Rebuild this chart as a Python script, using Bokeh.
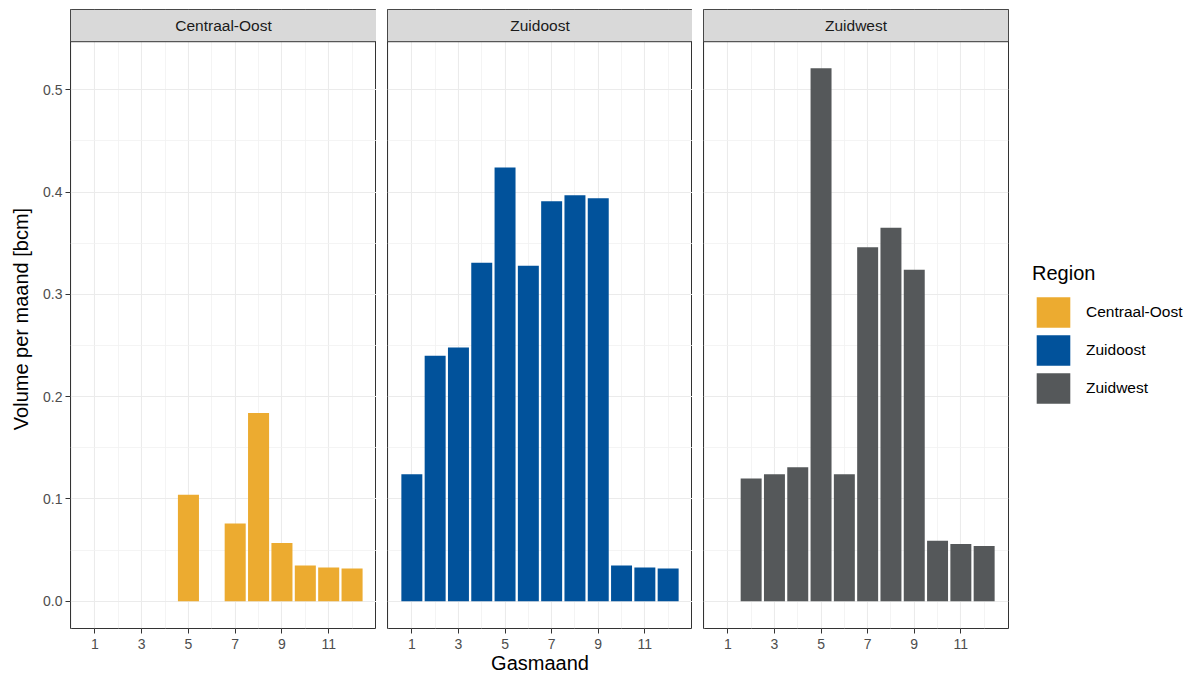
from bokeh.plotting import figure
from bokeh.models import FixedTicker, Range1d, Legend, LegendItem, ColumnDataSource, PrintfTickFormatter
from bokeh.layouts import row
from bokeh.embed import file_html
from bokeh.resources import INLINE
from bokeh.core.properties import value

# ---------------- data ----------------
months = [1, 2, 3, 4, 5, 6, 7, 8, 9, 10, 11, 12]
regions = ["Centraal-Oost", "Zuidoost", "Zuidwest"]
centraal_oost = [None, None, None, None, 0.104, None, 0.076, 0.184, 0.057, 0.035, 0.033, 0.032]
zuidoost = [0.124, 0.240, 0.248, 0.331, 0.424, 0.328, 0.391, 0.397, 0.394, 0.035, 0.033, 0.032]
zuidwest = [None, 0.120, 0.124, 0.131, 0.521, 0.124, 0.346, 0.365, 0.324, 0.059, 0.056, 0.054]
region_colors = ["#ECAB30", "#01529B", "#55585A"]
x_ticks = [1, 3, 5, 7, 9, 11]
x_minor = [0, 2, 4, 6, 8, 10, 12]
y_ticks = [0.0, 0.1, 0.2, 0.3, 0.4, 0.5]
y_minor = [0.05, 0.15, 0.25, 0.35, 0.45]
x_label = "Gasmaand"
y_label = "Volume per maand [bcm]"
legend_title = "Region"

series = [centraal_oost, zuidoost, zuidwest]

# ---------------- layout constants ----------------
FONT = "Liberation Sans"
X_LO, X_HI = -0.045, 13.045
Y_LO, Y_PANEL_TOP, Y_HEADER_TOP = -0.0267, 0.547, 0.5785
FRAME_H = 619
FRAME_WS = [306, 305, 305]
BORDER_LEFT = [70, 11, 11]

figs = []
for i, (reg, vals, col) in enumerate(zip(regions, series, region_colors)):
    p = figure(
        output_backend="svg", toolbar_location=None,
        frame_width=FRAME_WS[i], frame_height=FRAME_H,
        x_range=Range1d(X_LO, X_HI), y_range=Range1d(Y_LO, Y_HEADER_TOP),
        y_axis_location="left" if i == 0 else None,
        min_border_left=BORDER_LEFT[i], min_border_right=0 if i < 2 else 184,
        min_border_top=9, min_border_bottom=40,
        background_fill_color="white", border_fill_color="white",
        outline_line_color="#333333", outline_line_width=1,
    )
    xs = [m for m, v in zip(months, vals) if v is not None]
    ys = [v for v in vals if v is not None]
    src = ColumnDataSource(dict(x=xs, top=ys))
    r = p.vbar(x="x", top="top", bottom=0, width=0.9, source=src,
               fill_color=col, line_color=None)

    # grid
    p.xgrid.ticker = FixedTicker(ticks=x_ticks, minor_ticks=x_minor)
    p.ygrid.ticker = FixedTicker(ticks=y_ticks, minor_ticks=y_minor)
    for g in (p.xgrid, p.ygrid):
        g.grid_line_color = "#EBEBEB"
        g.grid_line_width = 1.1
        g.minor_grid_line_color = "#F1F1F1"
        g.minor_grid_line_width = 0.8

    # x axis
    xa = p.xaxis[0]
    xa.ticker = FixedTicker(ticks=x_ticks)
    xa.axis_line_color = None
    xa.major_tick_line_color = "#333333"
    xa.major_tick_out = 5
    xa.major_tick_in = 0
    xa.minor_tick_line_color = None
    xa.major_label_text_font = FONT
    xa.major_label_text_font_size = "14px"
    xa.major_label_text_color = "#4D4D4D"
    xa.major_label_standoff = 5
    if i == 1:
        xa.axis_label = x_label
        xa.axis_label_text_font = FONT
        xa.axis_label_text_font_size = "20px"
        xa.axis_label_text_font_style = "normal"
        xa.axis_label_text_color = "#000000"
        xa.axis_label_standoff = 0

    if i == 0:
        ya = p.yaxis[0]
        ya.ticker = FixedTicker(ticks=y_ticks)
        ya.formatter = PrintfTickFormatter(format="%.1f")
        ya.axis_line_color = None
        ya.major_tick_line_color = "#333333"
        ya.major_tick_out = 5
        ya.major_tick_in = 0
        ya.minor_tick_line_color = None
        ya.major_label_text_font = FONT
        ya.major_label_text_font_size = "14px"
        ya.major_label_text_color = "#4D4D4D"
        ya.major_label_standoff = 3
        ya.axis_label = y_label
        ya.axis_label_text_font = FONT
        ya.axis_label_text_font_size = "20px"
        ya.axis_label_text_font_style = "normal"
        ya.axis_label_text_color = "#000000"
        ya.axis_label_standoff = 8

    # facet strip header
    p.quad(left=X_LO, right=X_HI, bottom=Y_PANEL_TOP, top=Y_HEADER_TOP,
           fill_color="#D9D9D9", line_color="#333333", line_width=1)
    p.text(x=[(X_LO + X_HI) / 2], y=[(Y_PANEL_TOP + Y_HEADER_TOP) / 2], text=[reg],
           text_align="center", text_baseline="middle",
           text_font=value(FONT), text_font_size="15.5px", text_color="#1A1A1A")
    figs.append((p, r))

# legend on the last panel
p3 = figs[2][0]
items = []
for i, (reg, col) in enumerate(zip(regions, region_colors)):
    if i == 2:
        rr = figs[2][1]
    else:
        rr = p3.vbar(x=[float("nan")], top=[float("nan")], bottom=0, width=0.9,
                     fill_color=col, line_color=None)
    items.append(LegendItem(label=reg, renderers=[rr]))

legend = Legend(
    items=items, title=legend_title, location=(24, 221),
    title_text_font=FONT, title_text_font_size="20px", title_text_font_style="normal",
    title_text_color="#000000", title_standoff=8,
    label_text_font=FONT, label_text_font_size="15.5px", label_text_color="#000000",
    glyph_width=42, glyph_height=38, spacing=0, label_standoff=12,
    padding=0, margin=0, border_line_color=None, background_fill_alpha=0,
)
p3.add_layout(legend, "right")

layout = row([f for f, _ in figs])
open("out.html", "w").write(file_html(layout, INLINE))
